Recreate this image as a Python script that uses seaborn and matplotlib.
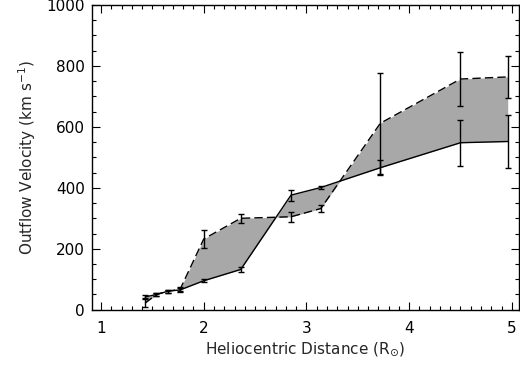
import matplotlib
matplotlib.use("Agg")
import matplotlib.pyplot as plt
import seaborn as sns
import numpy as np
import pandas as pd
from matplotlib.ticker import MultipleLocator

# Data
distance = [1.43, 1.54, 1.655, 1.77, 2.0, 2.36, 2.85, 3.14, 3.72, 4.5, 4.96]
v_solid = [42, 50, 61, 65, 95, 132, 376, 401, 466, 548, 552]
err_solid = [5, 5, 5, 5, 5, 9, 18, 6, 24, 76, 86]
v_dashed = [22, 50, 61, 67, 232, 300, 305, 332, 612, 757, 764]
err_dashed = [14, 5, 5, 9, 31, 15, 17, 12, 166, 89, 68]
x_ticks = [1, 2, 3, 4, 5]
y_ticks = [0, 200, 400, 600, 800, 1000]

sns.set_style("ticks")
plt.rcParams['font.family'] = ['DejaVu Sans']

df = pd.DataFrame({"x": distance, "solid": v_solid, "dashed": v_dashed})

fig = plt.figure(figsize=(5.2, 3.69), dpi=100)
ax = fig.add_axes([92/520, (369-309.7)/369, (518.5-92)/520, (309.7-5)/369])

ax.fill_between(df["x"], df["solid"], df["dashed"], interpolate=True,
                color="#a8a8a8", linewidth=0, zorder=1)
sns.lineplot(data=df, x="x", y="solid", ax=ax, color="black", linewidth=1.0,
             sort=False, zorder=3)
sns.lineplot(data=df, x="x", y="dashed", ax=ax, color="black", linewidth=1.0,
             sort=False, dashes=False, zorder=3)
ax.lines[-1].set_dashes([6, 3])
ax.errorbar(distance, v_solid, yerr=err_solid, fmt="none", ecolor="black",
            elinewidth=1.0, capsize=2.2, capthick=1.0, zorder=4)
ax.errorbar(distance, v_dashed, yerr=err_dashed, fmt="none", ecolor="black",
            elinewidth=1.0, capsize=2.2, capthick=1.0, zorder=4)

ax.set_xlim(0.912, 5.065)
ax.set_ylim(0, 1000)
ax.set_xticks(x_ticks)
ax.set_xticklabels([str(t) for t in x_ticks])
ax.set_yticks(y_ticks)
ax.set_yticklabels([str(t) for t in y_ticks])
ax.xaxis.set_minor_locator(MultipleLocator(0.1))
ax.yaxis.set_minor_locator(MultipleLocator(50))
ax.tick_params(which="both", direction="in", top=True, right=True,
               colors="black", width=0.8, labelsize=11)
ax.tick_params(which="major", length=5.5)
ax.tick_params(which="minor", length=3)
ax.tick_params(axis="x", pad=8)
ax.tick_params(axis="y", pad=5)
for s in ax.spines.values():
    s.set_visible(True)
    s.set_linewidth(1.0)
    s.set_color("black")

ax.set_xlabel(r"Heliocentric Distance (R$_{\odot}$)", fontsize=11, labelpad=3)
ax.set_ylabel(r"Outflow Velocity (km s$^{-1}$)", fontsize=11, labelpad=6)

fig.savefig("out.png", dpi=100)
